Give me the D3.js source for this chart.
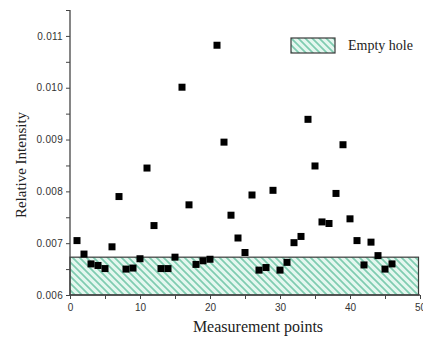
<!DOCTYPE html>
<html>
<head>
<meta charset="utf-8">
<script src="https://cdn.jsdelivr.net/npm/d3@7"></script>
<style>
  body { margin: 0; background: #fff; }
  #chart svg { display: block; }
</style>
</head>
<body>
<div id="chart"></div>
<script>
// data
var points = [1, 2, 3, 4, 5, 6, 7, 8, 9, 10, 11, 12, 13, 14, 15, 16, 17, 18, 19, 20, 21, 22, 23,
              24, 25, 26, 27, 28, 29, 30, 31, 32, 33, 34, 35, 36, 37, 38, 39, 40, 41, 42, 43, 44, 45, 46];
var intensity = [0.00705, 0.00679, 0.00660, 0.00657, 0.00651, 0.00693, 0.00790, 0.00650, 0.00652, 0.00670,
                 0.00845, 0.00734, 0.00651, 0.00651, 0.00673, 0.01001, 0.00774, 0.00659, 0.00666, 0.00669,
                 0.01082, 0.00895, 0.00754, 0.00710, 0.00682, 0.00793, 0.00648, 0.00653, 0.00802, 0.00648,
                 0.00663, 0.00701, 0.00713, 0.00939, 0.00849, 0.00741, 0.00738, 0.00796, 0.00890, 0.00747,
                 0.00705, 0.00658, 0.00702, 0.00676, 0.00650, 0.00660];
var emptyHole = [0.006, 0.00673];   // band for the empty hole
var xTicks = [0, 10, 20, 30, 40, 50];
var yTicks = [0.006, 0.007, 0.008, 0.009, 0.010, 0.011];

// set the dimensions and margins of the graph
var margin = {top: 10, right: 3, bottom: 42, left: 70},
    width = 423 - margin.left - margin.right,
    height = 337 - margin.top - margin.bottom;

var svg = d3.select("#chart")
  .append("svg")
    .attr("width", 423)
    .attr("height", 337)
  .append("g")
    .attr("transform", "translate(" + margin.left + "," + margin.top + ")");

// hatch pattern
var defs = svg.append("defs");
var pat = defs.append("pattern")
    .attr("id", "hatch")
    .attr("patternUnits", "userSpaceOnUse")
    .attr("width", 7)
    .attr("height", 7);
pat.append("rect").attr("width", 7).attr("height", 7).attr("fill", "#e4f7ef");
pat.append("path")
    .attr("d", "M-1,-1L8,8M-1,6L1,8M6,-1L8,1")
    .attr("stroke", "#7fccb0")
    .attr("stroke-width", 1.7);

// scales
var x = d3.scaleLinear().domain([0, 50]).range([0, 350]);
var y = d3.scaleLinear().domain([0.006, 0.0115]).range([height, 0]);

// empty hole band
svg.append("rect")
    .attr("x", x(0))
    .attr("y", y(emptyHole[1]))
    .attr("width", x(50) - x(0) - 1.5)
    .attr("height", y(emptyHole[0]) - y(emptyHole[1]))
    .attr("fill", "url(#hatch)")
    .attr("stroke", "#3a3a3a")
    .attr("stroke-width", 1.2);

// axes
var axisColor = "#444";
var xAxis = svg.append("g")
  .attr("transform", "translate(0," + height + ")")
  .call(d3.axisBottom(x).tickValues(d3.range(0, 51, 5)).tickSize(4)
    .tickFormat(function(d) { return xTicks.indexOf(d) >= 0 ? d : ""; }));
xAxis.select(".domain").attr("d", "M0,0H" + x(50)).attr("stroke", axisColor).attr("stroke-width", 1.3);
xAxis.selectAll(".tick line").attr("stroke", axisColor);
xAxis.selectAll(".tick text")
    .attr("fill", "#333")
    .attr("y", 9)
    .style("font-family", "Liberation Sans, Arial, sans-serif")
    .style("font-size", "10px");

var yAxis = svg.append("g")
  .call(d3.axisLeft(y).tickValues(d3.range(0.006, 0.01151, 0.0005)).tickSize(4)
    .tickFormat(function(d) {
      var hit = yTicks.some(function(t) { return Math.abs(t - d) < 1e-7; });
      return hit ? d3.format(".3f")(d) : "";
    }));
yAxis.select(".domain").attr("d", "M0," + height + "V0").attr("stroke", axisColor).attr("stroke-width", 1.3);
yAxis.selectAll(".tick line").attr("stroke", axisColor);
yAxis.selectAll(".tick text")
    .attr("fill", "#333")
    .attr("x", -7)
    .style("font-family", "Liberation Sans, Arial, sans-serif")
    .style("font-size", "10px")
    .style("letter-spacing", "0.3px");

// points
svg.selectAll("rect.pt")
  .data(points)
  .enter()
  .append("rect")
    .attr("class", "pt")
    .attr("x", function(d) { return x(d) - 3.5; })
    .attr("y", function(d, i) { return y(intensity[i]) - 3.5; })
    .attr("width", 7)
    .attr("height", 7)
    .attr("fill", "#000");

// labels
svg.append("text")
    .attr("text-anchor", "middle")
    .attr("x", 188)
    .attr("y", height + 37)
    .style("font-family", "Liberation Serif, Times New Roman, serif")
    .style("font-size", "16px")
    .style("fill", "#222")
    .text("Measurement points");

svg.append("text")
    .attr("text-anchor", "middle")
    .attr("transform", "rotate(-90)")
    .attr("x", -155)
    .attr("y", -44)
    .style("font-family", "Liberation Serif, Times New Roman, serif")
    .style("font-size", "15px")
    .style("fill", "#222")
    .text("Relative Intensity");

// legend
var legend = svg.append("g").attr("transform", "translate(221,28)");
legend.append("rect")
    .attr("width", 44)
    .attr("height", 15)
    .attr("fill", "url(#hatch)")
    .attr("stroke", "#3a3a3a")
    .attr("stroke-width", 1.2);
legend.append("text")
    .attr("x", 57)
    .attr("y", 12)
    .style("font-family", "Liberation Serif, Times New Roman, serif")
    .style("font-size", "14px")
    .style("fill", "#222")
    .text("Empty hole");
</script>
</body>
</html>
